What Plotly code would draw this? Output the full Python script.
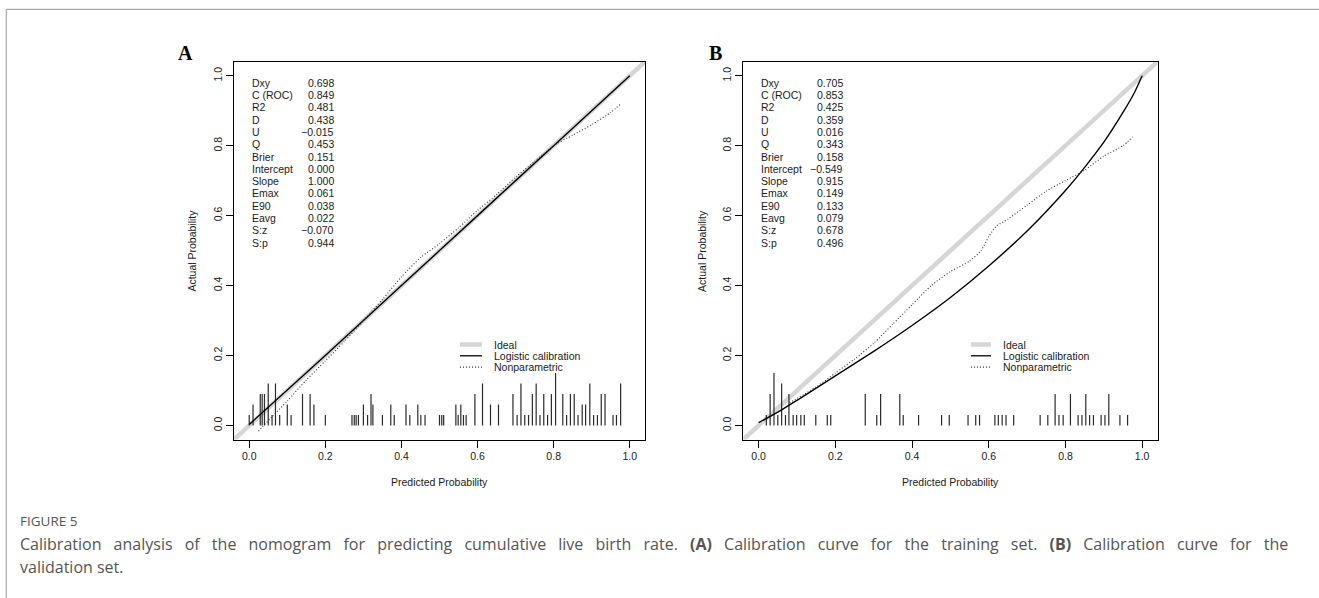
import plotly.graph_objects as go

W, H = 1319, 598

# ---------------- data ----------------
tick_vals = [0.0, 0.2, 0.4, 0.6, 0.8, 1.0]
tick_text = ["0.0", "0.2", "0.4", "0.6", "0.8", "1.0"]
axis_range = [-0.04, 1.04]

stat_names = ["Dxy", "C (ROC)", "R2", "D", "U", "Q", "Brier", "Intercept",
              "Slope", "Emax", "E90", "Eavg", "S:z", "S:p"]
stats_A = ["0.698", "0.849", "0.481", "0.438", "\u22120.015", "0.453", "0.151",
           "0.000", "1.000", "0.061", "0.038", "0.022", "\u22120.070", "0.944"]
stats_B = ["0.705", "0.853", "0.425", "0.359", "0.016", "0.343", "0.158",
           "\u22120.549", "0.915", "0.149", "0.133", "0.079", "0.678", "0.496"]

# logistic calibration curves
logit_A_x = [0.0, 0.2, 0.4, 0.6, 0.8, 1.0]
logit_A_y = [0.003, 0.2, 0.4, 0.6, 0.8, 1.0]
logit_B_x = [0.0, 0.05, 0.1, 0.2, 0.3, 0.4, 0.5, 0.6, 0.7, 0.8, 0.85, 0.9, 0.95, 0.98, 1.0]
logit_B_y = [0.008, 0.038, 0.072, 0.142, 0.212, 0.286, 0.366, 0.456, 0.556, 0.672, 0.738, 0.810, 0.895, 0.952, 1.0]

# nonparametric (lowess) curves
np_A_x = [0.024, 0.06, 0.1, 0.15, 0.2, 0.25, 0.3, 0.35, 0.4, 0.45, 0.5, 0.55, 0.6, 0.65,
          0.7, 0.75, 0.8, 0.85, 0.9, 0.95, 0.976]
np_A_y = [-0.016, 0.025, 0.07, 0.13, 0.185, 0.24, 0.3, 0.36, 0.425, 0.48, 0.52, 0.565, 0.615,
          0.66, 0.71, 0.755, 0.8, 0.83, 0.86, 0.895, 0.919]
np_B_x = [0.08, 0.15, 0.2, 0.25, 0.3, 0.35, 0.4, 0.45, 0.5, 0.55, 0.58, 0.6, 0.62, 0.65,
          0.7, 0.75, 0.8, 0.85, 0.9, 0.95, 0.975]
np_B_y = [0.065, 0.11, 0.15, 0.19, 0.235, 0.29, 0.345, 0.40, 0.44, 0.47, 0.50, 0.54, 0.57, 0.59,
          0.63, 0.67, 0.70, 0.73, 0.77, 0.80, 0.825]

# rug of predicted probabilities (x, frequency units)
rug_A_x = [0.000, 0.010, 0.029, 0.034, 0.040, 0.050, 0.060, 0.069, 0.080, 0.100, 0.110,
           0.140, 0.160, 0.170, 0.200, 0.270, 0.276, 0.281, 0.287, 0.300, 0.311, 0.320,
           0.325, 0.350, 0.372, 0.381, 0.412, 0.422, 0.443, 0.451, 0.462, 0.500, 0.506,
           0.511, 0.543, 0.549, 0.556, 0.563, 0.570, 0.593, 0.613, 0.634, 0.655, 0.693,
           0.704, 0.714, 0.724, 0.734, 0.744, 0.754, 0.764, 0.774, 0.784, 0.794, 0.805,
           0.824, 0.834, 0.844, 0.854, 0.864, 0.875, 0.884, 0.895, 0.905, 0.915, 0.925,
           0.935, 0.956, 0.965, 0.976]
rug_A_n = [1, 2, 3, 3, 3, 4, 1, 4, 1, 2, 1,
           3, 3, 2, 1, 1, 1, 1, 1, 2, 1, 3,
           2, 1, 2, 1, 2, 1, 2, 1, 1, 1, 1,
           1, 2, 1, 2, 1, 1, 3, 4, 2, 2, 3,
           1, 4, 1, 1, 3, 4, 1, 3, 1, 3, 5,
           3, 1, 3, 3, 1, 2, 2, 4, 1, 1, 3,
           3, 1, 1, 4]
rug_B_x = [0.020, 0.030, 0.040, 0.050, 0.060, 0.070, 0.079, 0.090, 0.099, 0.110, 0.119,
           0.149, 0.179, 0.188, 0.278, 0.308, 0.318, 0.368, 0.377, 0.417, 0.477, 0.497,
           0.546, 0.566, 0.576, 0.616, 0.625, 0.635, 0.645, 0.665, 0.734, 0.754, 0.773,
           0.783, 0.794, 0.813, 0.833, 0.843, 0.853, 0.863, 0.873, 0.893, 0.903, 0.913,
           0.942, 0.962]
rug_B_n = [1, 3, 5, 1, 4, 1, 3, 1, 1, 1, 1,
           1, 1, 1, 3, 1, 3, 3, 1, 1, 1, 1,
           1, 1, 1, 1, 1, 1, 1, 1, 1, 1, 3,
           1, 1, 3, 1, 1, 3, 1, 1, 1, 1, 3,
           1, 1]

legend_labels = ["Ideal", "Logistic calibration", "Nonparametric"]
panel_labels = ["A", "B"]
x_title = "Predicted Probability"
y_title = "Actual Probability"
fig_label = "FIGURE 5"
caption_1_words = ["Calibration", "analysis", "of", "the", "nomogram", "for", "predicting",
                   "cumulative", "live", "birth", "rate.", "<b>(A)</b>", "Calibration", "curve",
                   "for", "the", "training", "set.", "<b>(B)</b>", "Calibration", "curve", "for", "the"]
caption_2 = "validation set."

# ---------------- layout helpers ----------------
def px(x):
    return x / W

def py(y):
    return 1 - y / H

RUG_UNIT = 0.03
SANS = "Liberation Sans, Arial, sans-serif"
DOT = "1px,2px"
JUSTIFY_GAP = " \u2002"   # widened gap to mimic the justified first caption line

panels = [
    dict(xa="x", ya="y", left=234.0, right=645.0, stats=stats_A,
         lx=logit_A_x, ly=logit_A_y, nx=np_A_x, ny=np_A_y, rx=rug_A_x, rn=rug_A_n,
         lab_x=185, stat_lx=250.0, stat_vx=335.7, leg_x0=460.0, leg_x1=482.0, leg_tx=491.5),
    dict(xa="x2", ya="y2", left=743.3, right=1157.5, stats=stats_B,
         lx=logit_B_x, ly=logit_B_y, nx=np_B_x, ny=np_B_y, rx=rug_B_x, rn=rug_B_n,
         lab_x=715, stat_lx=759.3, stat_vx=845.3, leg_x0=971.0, leg_x1=991.0, leg_tx=1000.5),
]
TOP, BOTTOM = 61.7, 439.5

fig = go.Figure()
annotations = []
shapes = []

for i, p in enumerate(panels):
    fig.add_trace(go.Scatter(x=axis_range, y=axis_range, mode="lines",
                             line=dict(color="#d6d6d6", width=4.5),
                             xaxis=p["xa"], yaxis=p["ya"], showlegend=False, hoverinfo="skip"))
    rx, ry = [], []
    for xv, n in zip(p["rx"], p["rn"]):
        rx += [xv, xv, None]
        ry += [0.0, n * RUG_UNIT, None]
    fig.add_trace(go.Scatter(x=rx, y=ry, mode="lines", line=dict(color="#2a2a2a", width=1.2),
                             xaxis=p["xa"], yaxis=p["ya"], showlegend=False, hoverinfo="skip"))
    fig.add_trace(go.Scatter(x=p["lx"], y=p["ly"], mode="lines", line=dict(color="black", width=1.4,
                             shape="spline", smoothing=0.6),
                             xaxis=p["xa"], yaxis=p["ya"], showlegend=False, hoverinfo="skip"))
    fig.add_trace(go.Scatter(x=p["nx"], y=p["ny"], mode="lines",
                             line=dict(color="#333333", width=1.1, dash=DOT, shape="spline", smoothing=0.6),
                             xaxis=p["xa"], yaxis=p["ya"], showlegend=False, hoverinfo="skip"))

    for r, (nm, val) in enumerate(zip(stat_names, p["stats"])):
        yy = 82.7 + r * 12.3
        annotations.append(dict(x=px(p["stat_lx"]), y=py(yy), xref="paper", yref="paper",
                                text=nm, showarrow=False, xanchor="left", yanchor="middle",
                                font=dict(family=SANS, size=10.5, color="#1a1a1a")))
        annotations.append(dict(x=px(p["stat_vx"]), y=py(yy), xref="paper", yref="paper",
                                text=val, showarrow=False, xanchor="right", yanchor="middle",
                                font=dict(family=SANS, size=10.5, color="#1a1a1a")))

    leg_styles = [dict(color="#d6d6d6", width=4.5), dict(color="black", width=1.3),
                  dict(color="#333333", width=1.1, dash=DOT)]
    for r, (lab, st) in enumerate(zip(legend_labels, leg_styles)):
        yy = 344.5 + r * 11.3
        shapes.append(dict(type="line", xref="paper", yref="paper",
                           x0=px(p["leg_x0"]), x1=px(p["leg_x1"]), y0=py(yy), y1=py(yy), line=st))
        annotations.append(dict(x=px(p["leg_tx"]), y=py(yy), xref="paper", yref="paper",
                                text=lab, showarrow=False, xanchor="left", yanchor="middle",
                                font=dict(family=SANS, size=10.5, color="#1a1a1a")))

    annotations.append(dict(x=px(p["lab_x"]), y=py(53), xref="paper", yref="paper",
                            text="<b>%s</b>" % panel_labels[i], showarrow=False,
                            xanchor="center", yanchor="middle",
                            font=dict(family="Liberation Serif, Times New Roman, serif", size=20, color="black")))
    annotations.append(dict(x=px((p["left"] + p["right"]) / 2), y=py(482), xref="paper", yref="paper",
                            text=x_title, showarrow=False, xanchor="center", yanchor="middle",
                            font=dict(family=SANS, size=10.5, color="#1a1a1a")))
    annotations.append(dict(x=px(p["left"] - 42), y=py((TOP + BOTTOM) / 2), xref="paper", yref="paper",
                            text=y_title, showarrow=False, textangle=-90, xanchor="center", yanchor="middle",
                            font=dict(family=SANS, size=10.5, color="#1a1a1a")))

    ax_common = dict(range=axis_range, showgrid=False, zeroline=False, showline=True, mirror=True,
                     linecolor="black", linewidth=1.3, ticks="outside", ticklen=7, tickwidth=1,
                     tickcolor="black", tickvals=tick_vals, ticktext=tick_text,
                     tickfont=dict(family=SANS, size=10.5, color="#1a1a1a"), fixedrange=True)
    xkey = "xaxis" if i == 0 else "xaxis2"
    ykey = "yaxis" if i == 0 else "yaxis2"
    fig.update_layout(**{
        xkey: dict(ax_common, domain=[px(p["left"]), px(p["right"])], anchor=p["ya"]),
        ykey: dict(ax_common, domain=[py(BOTTOM), py(TOP)], anchor=p["xa"], tickangle=-90),
    })

# caption
CAP_FONT = "Open Sans, sans-serif"
annotations.append(dict(x=px(18), y=py(521), xref="paper", yref="paper", text=fig_label,
                        showarrow=False, xanchor="left", yanchor="middle",
                        font=dict(family=CAP_FONT, size=13.5, color="#555555")))
annotations.append(dict(x=px(18), y=py(543.5), xref="paper", yref="paper",
                        text=JUSTIFY_GAP.join(caption_1_words),
                        showarrow=False, xanchor="left", yanchor="middle",
                        font=dict(family=CAP_FONT, size=16.0, color="#555555")))
annotations.append(dict(x=px(18), y=py(567), xref="paper", yref="paper", text=caption_2,
                        showarrow=False, xanchor="left", yanchor="middle",
                        font=dict(family=CAP_FONT, size=16.0, color="#555555")))

# figure frame (top and left rules)
shapes.append(dict(type="line", xref="paper", yref="paper", x0=px(6.3), x1=1, y0=py(9.3), y1=py(9.3),
                   line=dict(color="#a8a8a8", width=1.2)))
shapes.append(dict(type="line", xref="paper", yref="paper", x0=px(6.3), x1=px(6.3), y0=py(9.3), y1=0,
                   line=dict(color="#a8a8a8", width=1.2)))

fig.update_layout(width=W, height=H, margin=dict(l=0, r=0, t=0, b=0),
                  paper_bgcolor="white", plot_bgcolor="white", showlegend=False,
                  annotations=annotations, shapes=shapes)

fig.write_html("out.html", config={"displayModeBar": False},
               post_script="document.body.style.margin='0';document.body.style.overflow='hidden';")
